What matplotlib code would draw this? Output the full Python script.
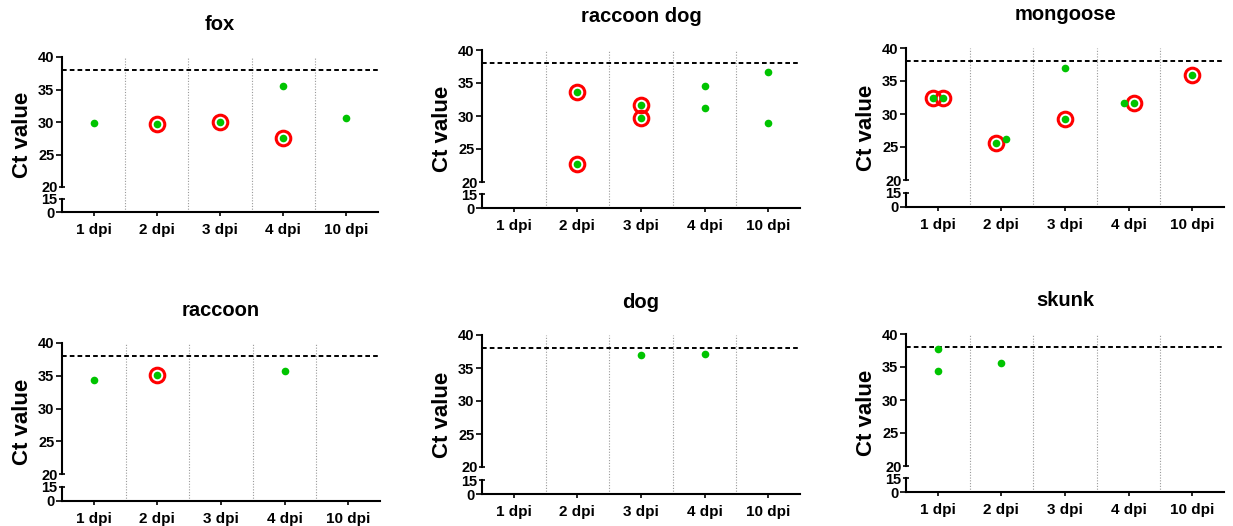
import matplotlib
matplotlib.use("Agg")
import matplotlib.pyplot as plt

plt.rcParams["font.family"] = ["Liberation Sans", "DejaVu Sans"]
plt.rcParams["font.weight"] = "bold"

W, H = 1233, 526

days = ["1 dpi", "2 dpi", "3 dpi", "4 dpi", "10 dpi"]
cutoff = 38

fox_day = [0, 1, 2, 3, 3, 4]
fox_ct = [29.9, 29.7, 30.0, 35.6, 27.6, 30.6]
fox_ring = [False, True, True, False, True, False]

raccoon_dog_day = [1, 1, 2, 2, 3, 3, 4, 4]
raccoon_dog_ct = [33.6, 22.7, 31.6, 29.7, 34.6, 31.2, 36.6, 29.0]
raccoon_dog_ring = [True, True, True, True, False, False, False, False]

mongoose_day = [0, 0, 1, 1, 2, 2, 3, 3, 4]
mongoose_ct = [32.4, 32.4, 25.6, 26.2, 36.9, 29.2, 31.6, 31.7, 35.9]
mongoose_ring = [True, True, True, False, False, True, False, True, True]

raccoon_day = [0, 1, 3]
raccoon_ct = [34.4, 35.1, 35.8]
raccoon_ring = [False, True, False]

dog_day = [2, 3]
dog_ct = [36.9, 37.1]
dog_ring = [False, False]

skunk_day = [0, 0, 1]
skunk_ct = [37.7, 34.4, 35.6]
skunk_ring = [False, False, False]

# pixel layout: left, right, y(40), y(20), y(15), y(0)
panels = [
    ("fox", fox_day, fox_ct, fox_ring, (62, 378, 57, 187, 199, 212)),
    ("raccoon dog", raccoon_dog_day, raccoon_dog_ct, raccoon_dog_ring, (482, 800, 50, 182, 194, 208)),
    ("mongoose", mongoose_day, mongoose_ct, mongoose_ring, (906, 1224, 48, 180, 193, 207)),
    ("raccoon", raccoon_day, raccoon_ct, raccoon_ring, (62, 380, 343, 474, 487, 501)),
    ("dog", dog_day, dog_ct, dog_ring, (482, 800, 335, 467, 480, 494)),
    ("skunk", skunk_day, skunk_ct, skunk_ring, (906, 1224, 334, 466, 478, 492)),
]

green = "#00c400"
lw_axis = 1.5


def spread(day, ct):
    # column scatter: points of one day with nearly equal values sit side by side
    xs = [float(d) for d in day]
    for d in set(day):
        idx = sorted([i for i in range(len(day)) if day[i] == d], key=lambda i: ct[i])
        groups = []
        for i in idx:
            if groups and abs(ct[i] - ct[groups[-1][-1]]) < 1.5:
                groups[-1].append(i)
            else:
                groups.append([i])
        for g in groups:
            n = len(g)
            for k, i in enumerate(g):
                xs[i] = d + (k - (n - 1) / 2) * 0.16
    return xs


fig = plt.figure(figsize=(W / 100, H / 100), dpi=100)

for name, day, ct, ring, (l, r, y40, y20, y15, y0) in panels:
    w = (r - l) / W

    bg = fig.add_axes([l / W, 1 - y0 / H, w, (y0 - y40) / H], zorder=0)
    bg.set_xlim(-0.5, 4.5)
    bg.set_ylim(0, 1)
    bg.axis("off")
    for s in [0.5, 1.5, 2.5, 3.5]:
        bg.axvline(s, color="#9a9a9a", lw=0.8, ls=(0, (1, 1.5)))

    up = fig.add_axes([l / W, 1 - y20 / H, w, (y20 - y40) / H], zorder=2)
    lo = fig.add_axes([l / W, 1 - y0 / H, w, (y0 - y15) / H], zorder=2)
    for ax in (up, lo):
        ax.set_facecolor("none")
        ax.set_xlim(-0.5, 4.5)
        ax.spines["top"].set_visible(False)
        ax.spines["right"].set_visible(False)
        ax.spines["left"].set_linewidth(lw_axis)
        ax.spines["bottom"].set_linewidth(lw_axis)
        ax.tick_params(axis="y", which="major", direction="out", length=4.5, width=1.2,
                       labelsize=10.5, pad=1)
        ax.tick_params(axis="y", which="minor", direction="inout", length=4.5, width=1.2,
                       labelsize=10.5, pad=1)

    up.spines["bottom"].set_visible(False)
    up.set_ylim(20, 40)
    up.set_yticks([25, 30, 35, 40])
    up.set_yticks([20], labels=["20"], minor=True)
    up.set_xticks([])
    up.axhline(cutoff, color="black", lw=1.4, ls=(0, (2.4, 1.6)))

    lo.set_ylim(0, 15)
    lo.set_yticks([0])
    lo.set_yticks([15], labels=["15"], minor=True)
    lo.set_xticks(range(len(days)), labels=days)
    lo.tick_params(axis="x", direction="out", length=3, width=1.2, labelsize=11, pad=5)

    xs = spread(day, ct)
    rx = [x for x, f in zip(xs, ring) if f]
    ry = [v for v, f in zip(ct, ring) if f]
    up.plot(rx, ry, "o", ms=10.5, mfc="none", mec="#ff0000", mew=2.2, clip_on=False, zorder=3)
    up.plot(xs, ct, "o", ms=5.5, color=green, mec="none", clip_on=False, zorder=4)

    cx = (l + r) / 2 / W
    fig.text(cx, 1 - (y40 - 33) / H, name, ha="center", va="center", fontsize=14.5)
    fig.text((l - 40) / W, 1 - (y40 + y0) / 2 / H, "Ct value", rotation=90,
             ha="center", va="center", fontsize=16)

fig.savefig("out.png", dpi=100)
